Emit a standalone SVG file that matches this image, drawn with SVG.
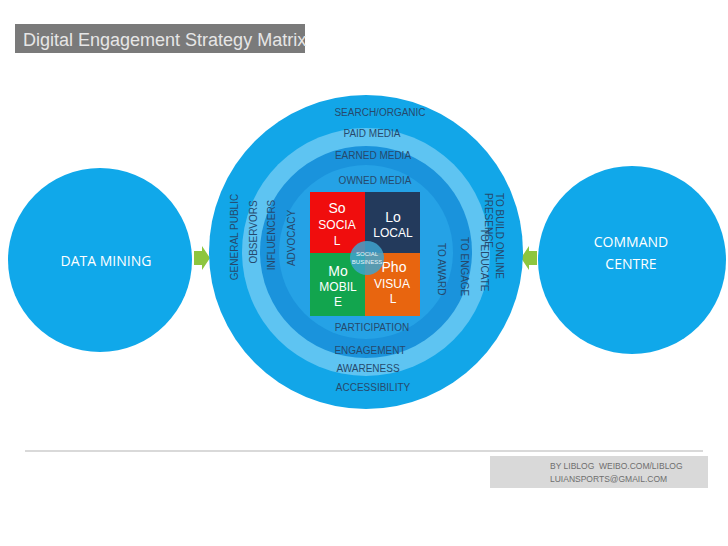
<svg xmlns="http://www.w3.org/2000/svg" width="728" height="546" viewBox="0 0 728 546">
<style>
.ring{font-family:"Liberation Sans",Arial,sans-serif;font-size:10px;fill:#26496c;}
.mid{text-anchor:middle;}
.cell{font-family:"Liberation Sans",Arial,sans-serif;fill:#ffffff;text-anchor:middle;font-size:12px;}
.big{font-size:14px;}
.side{font-family:"Open Sans","Liberation Sans",sans-serif;font-size:14px;fill:#ffffff;text-anchor:middle;}
.foot{font-family:"Liberation Sans",Arial,sans-serif;font-size:8.5px;fill:#6e6e6e;white-space:pre;}
</style>
<defs>
<path id="arrowR" d="M0,-7 L8,-7 L8,-12 L16,0 L8,12 L8,7 L0,7 Z" fill="#8dc63f"/>
</defs>
<rect width="728" height="546" fill="#ffffff"/>
<g id="title">
<rect x="15" y="24" width="290" height="29" fill="#7a7a7a"/>
<text x="23" y="46" font-family="'Liberation Sans',Arial,sans-serif" font-size="18" fill="#e6e6e6">Digital Engagement Strategy Matrix</text>
</g>
<g id="data-mining">
<circle cx="100" cy="260" r="92" fill="#10a8ea"/>
<text class="side" x="106" y="266">DATA MINING</text>
</g>
<g id="command-centre">
<circle cx="632" cy="260" r="94" fill="#10a8ea"/>
<text class="side" x="631" y="247">COMMAND</text>
<text class="side" x="631" y="269">CENTRE</text>
</g>
<g id="connectors">
<use href="#arrowR" transform="translate(194,258)"/>
<use href="#arrowR" transform="translate(537,258) scale(-1,1)"/>
</g>
<g id="matrix">
<circle cx="366" cy="252" r="157" fill="#12a6e8"/>
<circle cx="366" cy="252" r="124" fill="#5ec4f2"/>
<circle cx="366" cy="252" r="106" fill="#1a93dc"/>
<circle cx="366" cy="252" r="87" fill="#25a2e6"/>
<text class="ring mid" x="380" y="116">SEARCH/ORGANIC</text>
<text class="ring mid" x="372" y="137">PAID MEDIA</text>
<text class="ring mid" x="373" y="159">EARNED MEDIA</text>
<text class="ring mid" x="375" y="184">OWNED MEDIA</text>
<text class="ring mid" x="372" y="331">PARTICIPATION</text>
<text class="ring mid" x="370" y="354">ENGAGEMENT</text>
<text class="ring mid" x="368" y="372">AWARENESS</text>
<text class="ring mid" x="373" y="391">ACCESSIBILITY</text>
<text class="ring mid" transform="translate(238,237) rotate(-90)">GENERAL PUBLIC</text>
<text class="ring mid" transform="translate(257,232) rotate(-90)">OBSERVORS</text>
<text class="ring mid" transform="translate(275,235) rotate(-90)">INFLUENCERS</text>
<text class="ring mid" transform="translate(295,238) rotate(-90)">ADVOCACY</text>
<text class="ring" transform="translate(496,193) rotate(90)">TO BUILD ONLINE</text>
<text class="ring" transform="translate(485,193) rotate(90)">PRESENCE</text>
<text class="ring" transform="translate(481,228) rotate(90)">TO EDUCATE</text>
<text class="ring" transform="translate(461,237) rotate(90)">TO ENGAGE</text>
<text class="ring" transform="translate(438,243) rotate(90)">TO AWARD</text>
</g>
<g id="social">
<rect x="310" y="192" width="55" height="61" fill="#f00d0d"/>
<text class="cell big" x="337" y="213">So</text>
<text class="cell" x="337" y="229">SOCIA</text>
<text class="cell" x="337" y="245">L</text>
</g>
<g id="local">
<rect x="365" y="192" width="55" height="61" fill="#233a5c"/>
<text class="cell big" x="393" y="222">Lo</text>
<text class="cell" x="393" y="237">LOCAL</text>
</g>
<g id="mobile">
<rect x="310" y="253" width="55" height="63" fill="#12a54e"/>
<text class="cell big" x="338" y="276">Mo</text>
<text class="cell" x="338" y="291">MOBIL</text>
<text class="cell" x="338" y="306">E</text>
</g>
<g id="visual">
<rect x="365" y="253" width="55" height="63" fill="#e8650f"/>
<text class="cell big" x="394" y="272">Pho</text>
<text class="cell" x="392" y="288">VISUA</text>
<text class="cell" x="393" y="303">L</text>
</g>
<g id="social-business">
<circle cx="367" cy="258" r="17" fill="#3fa3cc" fill-opacity="0.85"/>
<text x="367" y="256" font-family="'Liberation Sans',Arial,sans-serif" font-size="6" fill="#e8f4fa" text-anchor="middle">SOCIAL</text>
<text x="367" y="264" font-family="'Liberation Sans',Arial,sans-serif" font-size="6" fill="#e8f4fa" text-anchor="middle">BUSINESS</text>
</g>
<g id="footer">
<line x1="25" y1="451" x2="703" y2="451" stroke="#d9d9d9" stroke-width="2"/>
<rect x="490" y="456" width="218" height="32" fill="#d9d9d9"/>
<text class="foot" x="550" y="469">BY LIBLOG  WEIBO.COM/LIBLOG</text>
<text class="foot" x="550" y="482">LUIANSPORTS@GMAIL.COM</text>
</g>
</svg>
